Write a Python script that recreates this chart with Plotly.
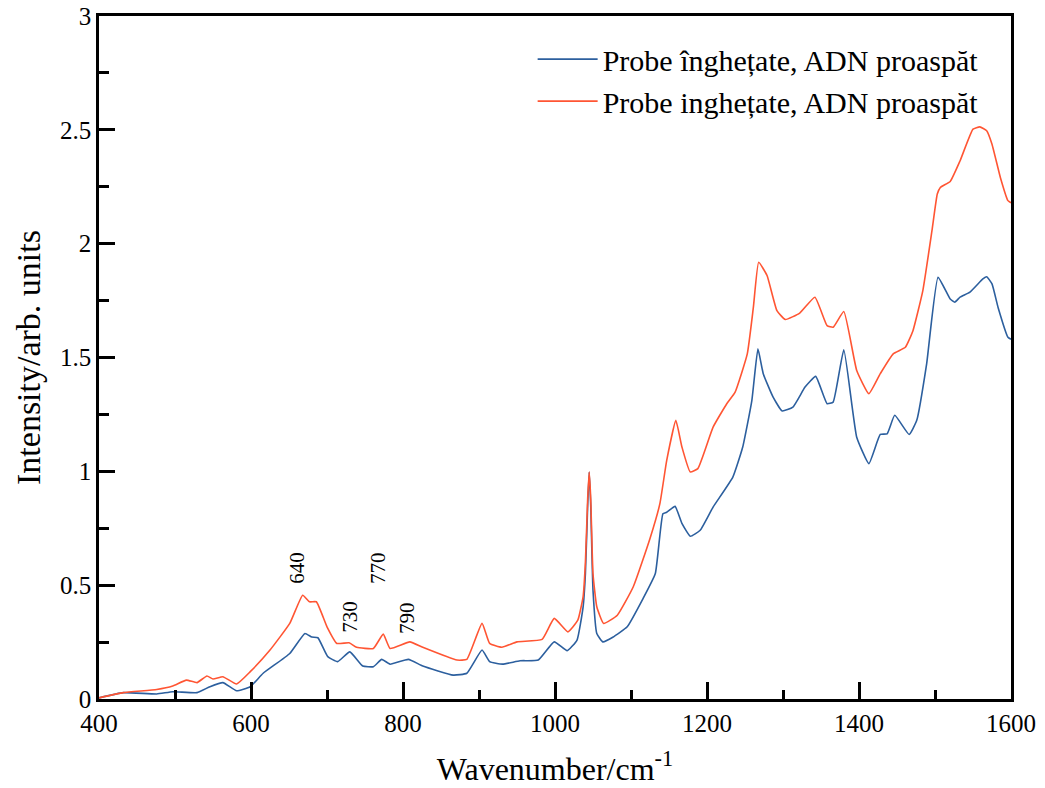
import plotly.graph_objects as go

# Series 1 (blue)
blue_x = [400, 432, 476, 497, 529, 546, 563, 581, 599, 616, 651, 671, 680, 688, 701, 714, 730, 747, 761, 772,
          783, 807, 826, 866, 884, 904, 914, 931, 954, 978, 999, 1016, 1029, 1037, 1040, 1043, 1045, 1047, 1050,
          1055, 1063, 1076, 1095, 1116, 1132, 1142, 1147, 1158, 1167, 1178, 1191, 1208, 1234, 1247, 1259, 1267,
          1274, 1287, 1299, 1313, 1329, 1343, 1358, 1366, 1380, 1397, 1413, 1428, 1437, 1447, 1466, 1476, 1489,
          1504, 1520, 1526, 1533, 1546, 1563, 1568, 1575, 1583, 1596, 1600]
blue_y = [0.005, 0.028, 0.022, 0.032, 0.028, 0.054, 0.072, 0.036, 0.054, 0.113, 0.20, 0.288, 0.272, 0.269, 0.186,
          0.164, 0.207, 0.145, 0.142, 0.174, 0.153, 0.174, 0.145, 0.105, 0.113, 0.215, 0.164, 0.153, 0.168, 0.171,
          0.251, 0.212, 0.259, 0.405, 0.55, 0.85, 0.997, 0.85, 0.478, 0.288, 0.251, 0.271, 0.317, 0.442, 0.551,
          0.814, 0.82, 0.846, 0.771, 0.715, 0.741, 0.843, 0.975, 1.107, 1.311, 1.538, 1.429, 1.326, 1.265, 1.282,
          1.37, 1.417, 1.297, 1.304, 1.534, 1.15, 1.034, 1.162, 1.165, 1.246, 1.162, 1.224, 1.472, 1.852, 1.757,
          1.743, 1.765, 1.787, 1.845, 1.855, 1.823, 1.72, 1.589, 1.58]

# Series 2 (red)
red_x = [400, 432, 476, 497, 515, 529, 542, 550, 563, 581, 599, 625, 651, 668, 677, 686, 700, 713, 729, 739, 761,
         774, 783, 809, 826, 871, 884, 904, 914, 930, 950, 983, 999, 1017, 1030, 1037, 1040, 1043, 1045, 1047,
         1050, 1055, 1064, 1082, 1103, 1125, 1138, 1147, 1159, 1167, 1178, 1188, 1208, 1226, 1237, 1253, 1261,
         1268, 1279, 1292, 1303, 1322, 1342, 1358, 1366, 1380, 1397, 1413, 1428, 1445, 1461, 1471, 1484, 1496,
         1503, 1507, 1520, 1533, 1550, 1559, 1568, 1575, 1586, 1596, 1600]
red_y = [0.005, 0.028, 0.042, 0.057, 0.083, 0.072, 0.101, 0.088, 0.098, 0.066, 0.12, 0.215, 0.332, 0.456, 0.427,
         0.427, 0.317, 0.244, 0.247, 0.227, 0.222, 0.285, 0.222, 0.251, 0.227, 0.171, 0.174, 0.332, 0.244, 0.227,
         0.251, 0.262, 0.354, 0.295, 0.346, 0.45, 0.6, 0.88, 0.997, 0.88, 0.55, 0.405, 0.332, 0.368, 0.493, 0.705,
         0.858, 1.048, 1.224, 1.107, 0.997, 1.012, 1.194, 1.297, 1.348, 1.516, 1.72, 1.918, 1.86, 1.706, 1.667,
         1.695, 1.765, 1.64, 1.633, 1.702, 1.443, 1.341, 1.429, 1.516, 1.545, 1.618, 1.794, 2.057, 2.218, 2.247,
         2.273, 2.364, 2.503, 2.513, 2.496, 2.437, 2.291, 2.189, 2.18]

series_names = ["Probe înghețate, ADN proaspăt", "Probe inghețate, ADN proaspăt"]

# Peak labels
peak_labels = ["640", "730", "770", "790"]
peak_x = [660, 730, 767, 805]
peak_y = [0.575, 0.36, 0.575, 0.355]

FONT = "Liberation Serif"

fig = go.Figure()
fig.add_trace(go.Scatter(x=blue_x, y=blue_y, mode="lines", name=series_names[0],
                         line=dict(color="#2c5f9e", width=1.6, shape="spline", smoothing=0.4)))
fig.add_trace(go.Scatter(x=red_x, y=red_y, mode="lines", name=series_names[1],
                         line=dict(color="#ff5533", width=1.6, shape="spline", smoothing=0.4)))

for t, xv, yv in zip(peak_labels, peak_x, peak_y):
    fig.add_annotation(x=xv, y=yv, text=t, showarrow=False, textangle=-90,
                       font=dict(family=FONT, size=21, color="black"))

fig.update_layout(
    width=1045, height=788,
    margin=dict(l=99, r=34, t=16, b=89),
    paper_bgcolor="white", plot_bgcolor="white",
    font=dict(family=FONT, color="black"),
    showlegend=True,
    legend=dict(x=0.97, y=0.975, xanchor="right", yanchor="top",
                bgcolor="rgba(0,0,0,0)", borderwidth=0,
                font=dict(family=FONT, size=30, color="black"),
                itemwidth=60),
    xaxis=dict(range=[400, 1600], dtick=200, tick0=400, automargin=False,
               ticks="inside", ticklen=17, tickwidth=2.5, tickcolor="black",
               minor=dict(dtick=100, ticks="inside", ticklen=9, tickwidth=2.5, tickcolor="black"),
               showline=True, linewidth=2.5, linecolor="black", mirror=True,
               showgrid=False, zeroline=False,
               tickfont=dict(family=FONT, size=25, color="black"),
               title=dict(text="Wavenumber/cm<sup>-1</sup>", font=dict(family=FONT, size=32, color="black"),
                          standoff=22)),
    yaxis=dict(range=[0, 3], dtick=0.5, tick0=0, automargin=False,
               ticks="inside", ticklen=16, tickwidth=2.5, tickcolor="black",
               minor=dict(dtick=0.25, ticks="inside", ticklen=10, tickwidth=2.5, tickcolor="black"),
               showline=True, linewidth=2.5, linecolor="black", mirror=True,
               showgrid=False, zeroline=False,
               tickfont=dict(family=FONT, size=25, color="black"),
               title=dict(text="Intensity/arb. units", font=dict(family=FONT, size=34, color="black"),
                          standoff=10)),
)

fig.write_html("out.html")
